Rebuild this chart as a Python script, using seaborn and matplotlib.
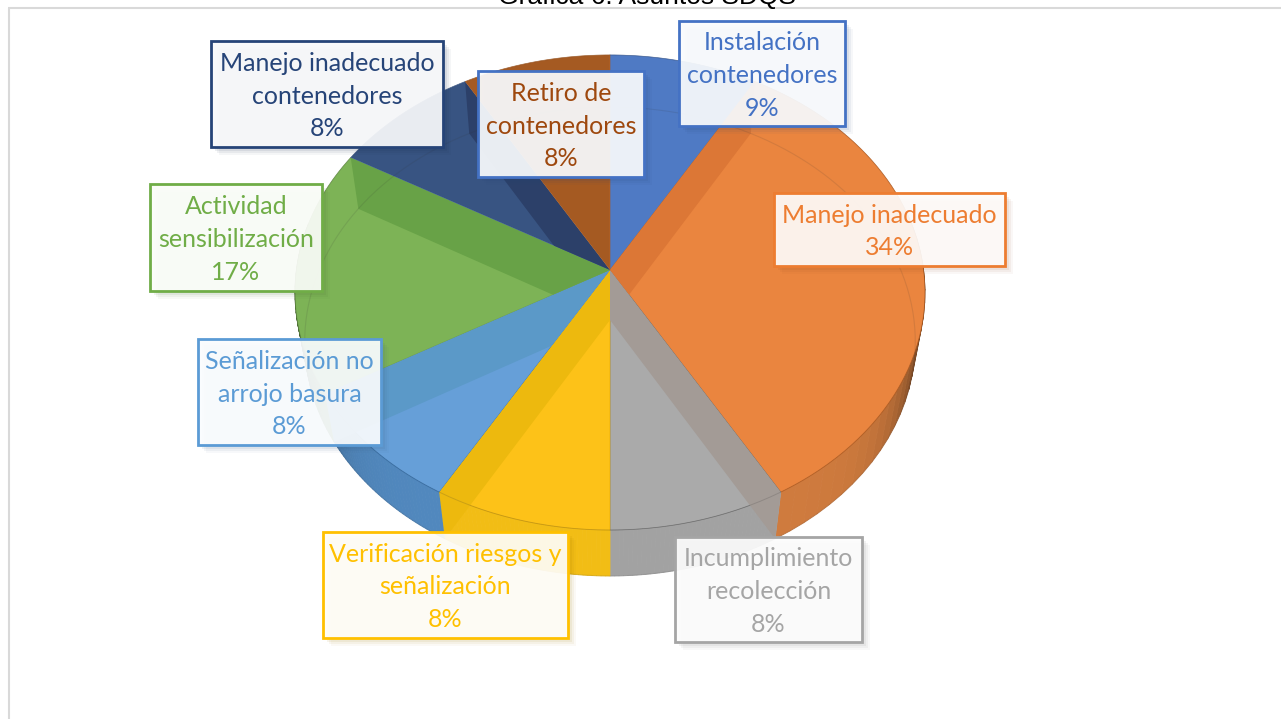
import numpy as np
import seaborn as sns
import matplotlib.pyplot as plt
from matplotlib.patches import Polygon, Rectangle
from matplotlib.path import Path
from matplotlib.transforms import Affine2D

# data
categories = ['Instalación\ncontenedores', 'Manejo inadecuado', 'Incumplimiento\nrecolección',
              'Verificación riesgos y\nseñalización', 'Señalización no\narrojo basura',
              'Actividad\nsensibilización', 'Manejo inadecuado\ncontenedores', 'Retiro de\ncontenedores']
percent_labels = ['9%', '34%', '8%', '8%', '8%', '17%', '8%', '8%']
shares = [8.33, 33.33, 8.33, 8.33, 8.33, 16.67, 8.33, 8.33]

# styles
face_colors = ['#4F7AC4', '#EA853F', '#AAAAAA', '#FDC218', '#669FD8', '#7DB356', '#385482', '#A55A22']
band_colors = ['#4470B8', '#DC7736', '#A39B96', '#EDB90E', '#5B99C8', '#68A247', '#2C4069', '#96501C']
rim_colors = ['#4470B8', '#CF7B3E', '#A2A2A2', '#F2BD15', '#5188BE', '#6AA044', '#2C4069', '#96501C']
text_colors = ['#4472C4', '#ED7D31', '#A5A5A5', '#FFC000', '#5B9BD5', '#70AD47', '#264478', '#9E480E']
edge_colors = ['#4472C4', '#ED7D31', '#A5A5A5', '#FFC000', '#5B9BD5', '#70AD47', '#264478', '#4472C4']

# label boxes in pixels: left, top, right, bottom
boxes = [(679, 21, 845, 126), (774, 193, 1005, 266), (675, 537, 862, 642), (323, 532, 568, 638),
         (198, 339, 381, 445), (150, 184, 322, 291), (211, 41, 443, 147), (478, 71, 644, 177)]

# perspective of the two pie faces: centre x, centre y, radius x, radius y, tilt
TOP_FACE = (610, 270, 313.6, 235.4, 0.0947)
BOTTOM_FACE = (610, 320, 304, 232.5, 0.0917)


def warp(x, y, face):
    cx, cy, rx, ry, k = face
    d = 1 + k * np.asarray(y)
    return np.column_stack([cx + rx * np.asarray(x) / d, cy - ry * np.asarray(y) / d])


def flat_wedge(wedge):
    path = wedge.get_path().transformed(Affine2D().scale(1000))
    return path.to_polygons()[0] / 1000


sns.set_theme(style='white')
plt.rcParams['font.family'] = ['Lato', 'DejaVu Sans']

fig = plt.figure(figsize=(12.81, 7.19), dpi=100, facecolor='white')
ax = fig.add_axes([0, 0, 1, 1])

palette = sns.color_palette(face_colors)
wedges, _ = ax.pie(shares, colors=palette, startangle=90, counterclock=False)

ax.set_aspect('auto')
ax.set_xlim(0, 1281)
ax.set_ylim(719, 0)
ax.axis('off')

cumulative = np.cumsum([0] + shares) / sum(shares) * 2 * np.pi

# outer wall, darker towards the sides
for i in range(len(shares)):
    grid = np.linspace(cumulative[i], cumulative[i + 1], 40)
    for a, b in zip(grid[:-1], grid[1:]):
        if np.cos(a) > 0.2 and np.cos(b) > 0.2:
            continue
        pair = np.array([a, b])
        upper = warp(np.sin(pair), np.cos(pair), TOP_FACE)
        lower = warp(np.sin(pair), np.cos(pair), BOTTOM_FACE)
        shade = 1 - 0.6 * abs(np.sin((a + b) / 2)) ** 10
        color = np.array(sns.color_palette([rim_colors[i]])[0]) * shade
        ax.add_patch(Polygon(np.vstack([upper, lower[::-1]]), closed=True, facecolor=color,
                             edgecolor=color, linewidth=0.6, zorder=2))

# top face, the pie wedges bent into perspective
clip_regions = []
apex = np.array(TOP_FACE[:2])
for wedge, color in zip(wedges, face_colors):
    pts = flat_wedge(wedge)
    wedge.remove()
    top_pts = warp(pts[:, 0], pts[:, 1], TOP_FACE)
    # same slice, stretched past the rim so the walls can run over the outer wall
    clip_regions.append(Path(apex + (top_pts - apex) * 1.3))
    ax.add_patch(Polygon(top_pts, closed=True, facecolor=color,
                         edgecolor=sns.set_hls_values(color, l=0.45), linewidth=0.4, zorder=3))

# inner walls seen through the top, each one kept inside its own slice
n = len(shares)
for j in range(n):
    theta = cumulative[j]
    side = np.sin(theta)
    if abs(side) < 0.01:
        continue
    owner = j if side > 0 else (j - 1) % n
    rim_top = warp([np.sin(theta)], [np.cos(theta)], TOP_FACE)[0]
    rim_bottom = warp([np.sin(theta)], [np.cos(theta)], BOTTOM_FACE)[0]
    quad = [TOP_FACE[:2], rim_top, rim_bottom, BOTTOM_FACE[:2]]
    band = ax.add_patch(Polygon(quad, closed=True, facecolor=band_colors[owner], edgecolor='none', zorder=4))
    band.set_clip_path(clip_regions[owner], transform=ax.transData)

# faint outline of the two faces
ring = np.linspace(0, 2 * np.pi, 361)
lower_ring = warp(np.sin(ring), np.cos(ring), BOTTOM_FACE)
ax.plot(lower_ring[:, 0], lower_ring[:, 1], color='#333333', alpha=0.12, linewidth=0.8, zorder=5)
upper_ring = warp(np.sin(ring), np.cos(ring), TOP_FACE)
ax.plot(upper_ring[:, 0], upper_ring[:, 1], color='#333333', alpha=0.18, linewidth=0.7, zorder=5)

# chart frame and clipped title
ax.plot([8.5, 8.5], [719, 8], color='#D9D9D9', linewidth=1.5, zorder=1, solid_capstyle='butt')
ax.plot([8, 1281], [8, 8], color='#D9D9D9', linewidth=1.5, zorder=1, solid_capstyle='butt')
ax.text(647, 4, 'Gráfica 6. Asuntos SDQS', family='Liberation Sans', fontsize=19, color='black',
        ha='center', va='baseline', zorder=6)

# data labels
for name, pct, box, text_c, edge_c in zip(categories, percent_labels, boxes, text_colors, edge_colors):
    x0, y0, x1, y1 = box
    tint = np.array(sns.color_palette([edge_c])[0])
    for off, alpha in [(8, 0.04), (6, 0.06), (4, 0.08)]:
        ax.add_patch(Rectangle((x0 + off, y0 + off), x1 - x0, y1 - y0, facecolor=tint * 0.6,
                               edgecolor='none', alpha=alpha, zorder=7))
    fill = tuple(tint * 0.03 + 0.97) + (0.93,)
    ax.add_patch(Rectangle((x0, y0), x1 - x0, y1 - y0, facecolor=fill,
                           edgecolor=edge_c, linewidth=2, zorder=8))
    ax.text((x0 + x1) / 2, (y0 + y1) / 2 + 2, f'{name}\n{pct}', color=text_c, fontsize=18,
            ha='center', va='center', linespacing=1.52, zorder=9)

fig.savefig('out.png', dpi=100)
